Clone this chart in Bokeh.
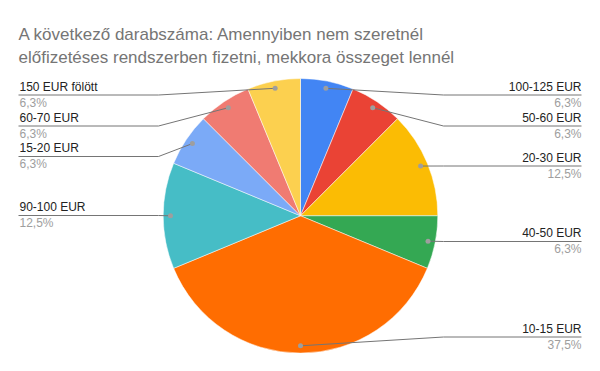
import math
from bokeh.plotting import figure
from bokeh.models import Range1d, ColumnDataSource, Label
from bokeh.embed import file_html
from bokeh.resources import INLINE

# ---- data ----
categories = ["100-125 EUR", "50-60 EUR", "20-30 EUR", "40-50 EUR", "10-15 EUR",
              "90-100 EUR", "15-20 EUR", "60-70 EUR", "150 EUR fölött"]
counts = [1, 1, 2, 1, 6, 2, 1, 1, 1]
colors = ["#4285F4", "#EA4335", "#FBBC04", "#34A853", "#FF6D01",
          "#46BDC6", "#7BAAF7", "#F07B72", "#FCD04F"]
title_lines = ["A következő darabszáma: Amennyiben nem szeretnél",
               "előfizetéses rendszerben fizetni, mekkora összeget lennél"]

# ---- layout (screen pixels, y from top) ----
W, H = 600, 371
CX, CY, R = 300, 215.3, 137.3
DOT_R = 130
label_line_y = [94.5, 125.5, 165.5, 241, 336.5, 215, 156, 125.5, 94.5]
LEFT_X0, LEFT_BEND = 18, 158
RIGHT_X1, RIGHT_BEND = 581, 443
FONT = "Liberation Sans"
DESC = 0.212  # descent fraction, text placed with baseline "bottom"

def sy(y):
    return H - y

p = figure(width=W, height=H, output_backend="svg", toolbar_location=None,
           x_range=Range1d(0, W), y_range=Range1d(0, H), min_border=0,
           background_fill_color="white", border_fill_color="white")
p.axis.visible = False
p.grid.visible = False
p.outline_line_color = None

total = sum(counts)
starts, ends, mids = [], [], []
cum = 0
for c in counts:
    f0 = cum / total
    cum += c
    f1 = cum / total
    starts.append(math.pi / 2 - f0 * 2 * math.pi)
    ends.append(math.pi / 2 - f1 * 2 * math.pi)
    mids.append((f0 + f1) / 2)
pcts = [(f"{round(c / total * 100 + 1e-9, 1):.1f}").replace(".", ",") for c in counts]

src = ColumnDataSource(dict(start=starts, end=ends, color=colors, cat=categories))
p.wedge(x=CX, y=sy(CY), radius=R, start_angle="start", end_angle="end",
        direction="clock", fill_color="color", line_color="white", line_width=0.5,
        source=src)

def text(x, baseline_y, s, size, color, align="left"):
    p.add_layout(Label(x=x, y=sy(baseline_y + DESC * size), text=s, text_align=align,
                       text_baseline="bottom", text_font=FONT,
                       text_font_size=f"{size}px", text_color=color))

for i, cat in enumerate(categories):
    m = mids[i] * 2 * math.pi
    dx = CX + DOT_R * math.sin(m)
    dy = CY - DOT_R * math.cos(m)
    ly = label_line_y[i]
    right = mids[i] <= 0.5
    xs = [dx, RIGHT_BEND, RIGHT_X1] if right else [dx, LEFT_BEND, LEFT_X0]
    ys = [sy(dy), sy(ly), sy(ly)]
    p.line(xs, ys, line_color="#757575", line_width=1)
    p.scatter([dx], [sy(dy)], size=5, fill_color="#9e9e9e", line_color=None)
    if right:
        tx, align = RIGHT_X1, "right"
    else:
        tx, align = LEFT_X0 + 1, "left"
    text(tx, ly - 4, cat, 12, "#222222", align)
    text(tx, ly + 12, pcts[i] + "%", 12, "#9e9e9e", align)

for k, t in enumerate(title_lines):
    text(18, 39.5 + k * 23.3, t, 17, "#757575")

open("out.html", "w").write(file_html(p, INLINE))
